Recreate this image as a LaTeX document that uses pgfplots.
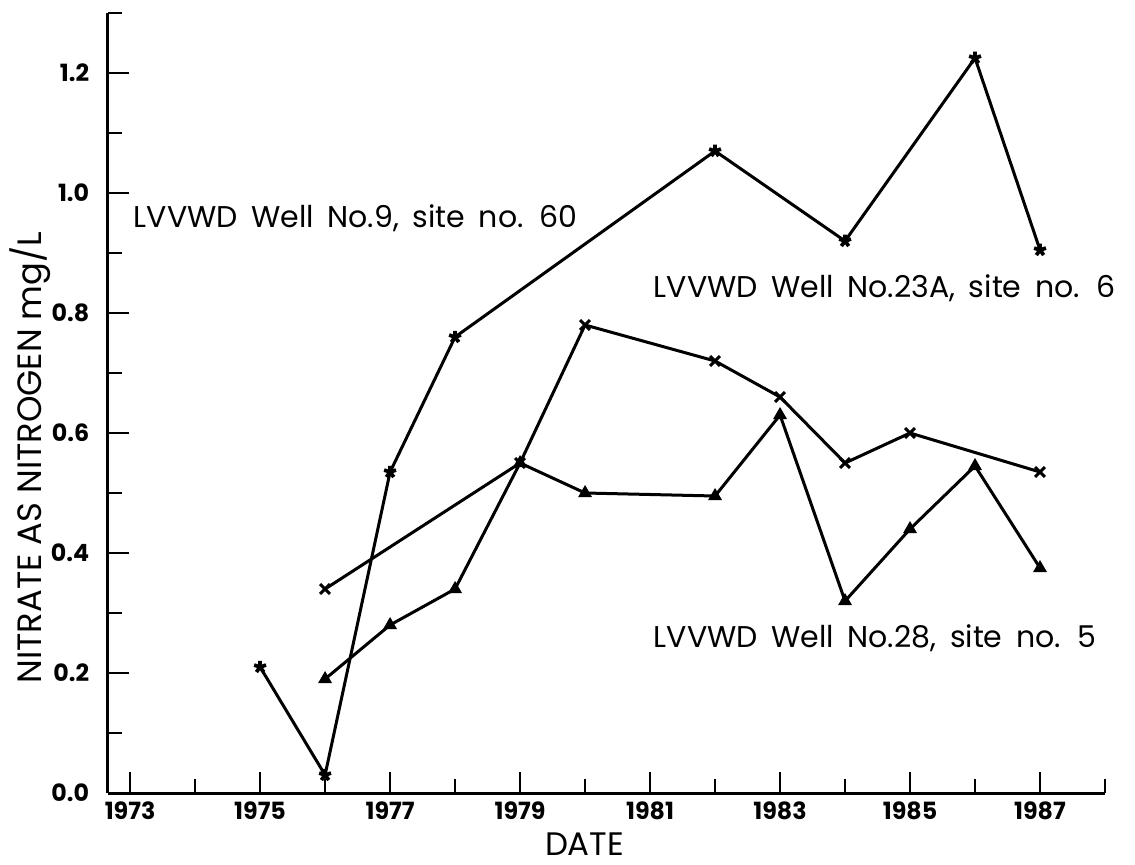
\documentclass[border=0pt]{standalone}
\usepackage{fontspec}
\setmainfont{Poppins}
\newfontfamily\annfont{Poppins}[WordSpace=1.7]
\usepackage{pgfplots}
\pgfplotsset{compat=1.18}

% nitrate readings, mg/L
\pgfplotstableread{
year  val
1975  0.21
1976  0.03
1977  0.535
1978  0.76
1982  1.07
1984  0.92
1986  1.225
1987  0.905
}\wellnine
\pgfplotstableread{
year  val
1976  0.34
1979  0.55
1980  0.78
1982  0.72
1983  0.66
1984  0.55
1985  0.60
1987  0.535
}\welltwentythree
\pgfplotstableread{
year  val
1976  0.19
1977  0.28
1978  0.34
1979  0.55
1980  0.50
1982  0.495
1983  0.63
1984  0.32
1985  0.44
1986  0.545
1987  0.375
}\welltwentyeight

\begin{document}
\begin{tikzpicture}
\useasboundingbox (-43.2pt,-28.4pt) rectangle (410.8pt,317.2pt);
\begin{axis}[
    at={(0,0)}, anchor=south west,
    scale only axis, width=398.8pt, height=312pt,
    xmin=1972.66, xmax=1988, ymin=0, ymax=1.3,
    axis lines=left,
    axis line style={-, line width=1.2pt},
    tick align=inside,
    xtick={1973,1975,...,1987},
    minor xtick={1974,1976,...,1988},
    ytick={0,0.2,0.4,0.6,0.8,1.0,1.2},
    minor ytick={0.1,0.3,0.5,0.7,0.9,1.1,1.3},
    major tick length=8.5pt, minor tick length=5.5pt,
    every tick/.style={black, line width=1pt},
    /pgf/number format/assume math mode=true,
    ticklabel style={font=\fontsize{9.5}{10}\selectfont\bfseries},
    xticklabel style={/pgf/number format/1000 sep={}},
    yticklabel style={/pgf/number format/fixed, /pgf/number format/fixed zerofill,
                      /pgf/number format/precision=1, xshift=-4pt},
    xlabel={DATE},
    xlabel style={at={(axis description cs:0.478,-0.066)}, anchor=center,
                  font=\fontsize{13}{14}\selectfont},
    clip=false,
    every axis plot/.append style={black, line width=1.2pt},
]

\addplot[mark=star, mark size=2.5pt, mark options={line width=1.5pt}]
    table[x=year, y=val] {\wellnine};
\addplot[mark=x, mark size=2.8pt, mark options={line width=1.2pt}]
    table[x=year, y=val] {\welltwentythree};
\addplot[mark=triangle*, mark size=2pt]
    table[x=year, y=val] {\welltwentyeight};

\node[rotate=90, anchor=center, font=\fontsize{13.5}{14}\selectfont]
    at (axis description cs:-0.078,0.43) {NITRATE AS NITROGEN mg/L};

\node[anchor=west, inner sep=0pt, font=\annfont\fontsize{12}{13}\selectfont]
    at (axis cs:1973.05,0.958) {LVVWD Well No.9, site no. 60};
\node[anchor=west, inner sep=0pt, font=\annfont\fontsize{12}{13}\selectfont]
    at (axis cs:1981.05,0.842) {LVVWD Well No.23A, site no. 6};
\node[anchor=west, inner sep=0pt, font=\annfont\fontsize{12}{13}\selectfont]
    at (axis cs:1981.05,0.258) {LVVWD Well No.28, site no. 5};

\end{axis}
\end{tikzpicture}
\end{document}
